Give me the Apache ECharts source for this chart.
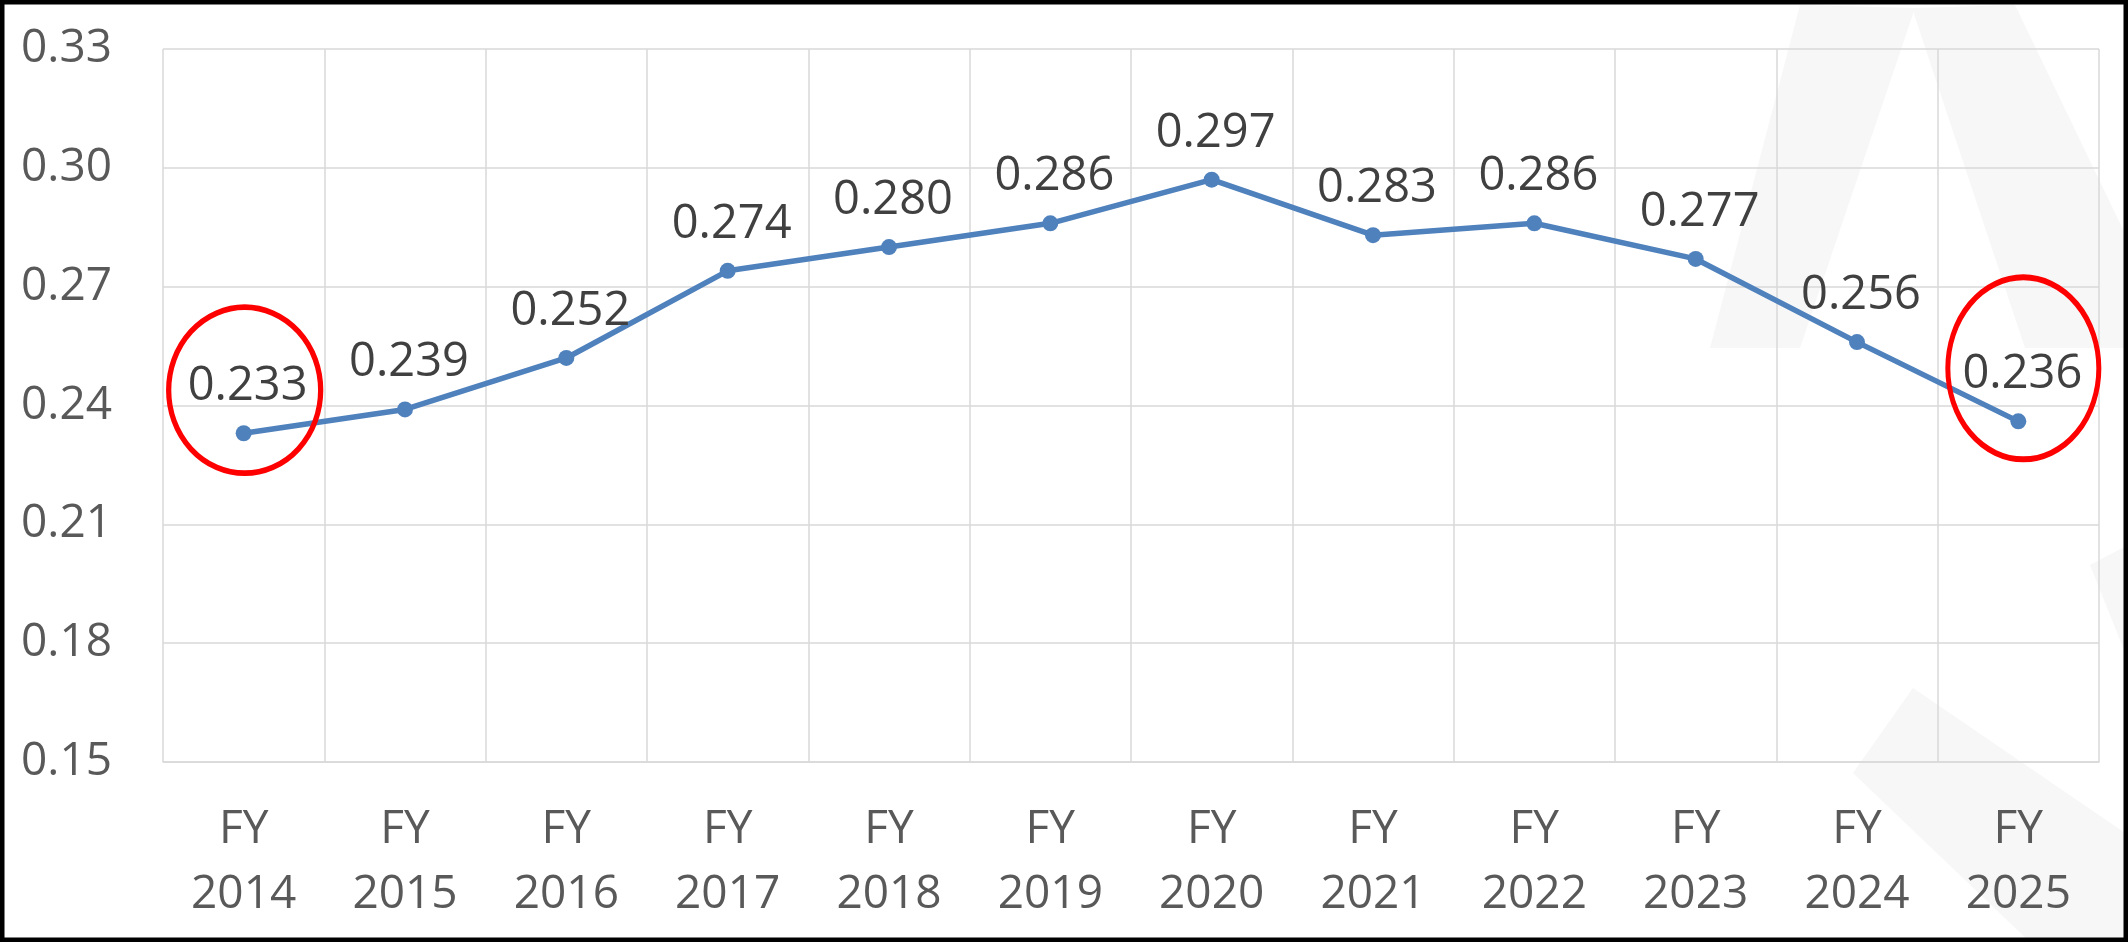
<!DOCTYPE html>
<html>
<head>
<meta charset="utf-8">
<script src="https://cdn.jsdelivr.net/npm/echarts@6/dist/echarts.min.js"></script>
<style>
  html, body { margin: 0; padding: 0; background: #fff; }
  #chart { width: 2128px; height: 942px; }
</style>
</head>
<body>
<div id="chart"></div>
<script>
// ---- data ----
const categories = ['FY\n2014','FY\n2015','FY\n2016','FY\n2017','FY\n2018','FY\n2019','FY\n2020','FY\n2021','FY\n2022','FY\n2023','FY\n2024','FY\n2025'];
const values = [0.233, 0.239, 0.252, 0.274, 0.280, 0.286, 0.297, 0.283, 0.286, 0.277, 0.256, 0.236];
const yMin = 0.15;
const yMax = 0.33;
const yStep = 0.03;
const highlighted = [0, 11]; // indices circled in red

const FONT = '"Open Sans", "Noto Sans", sans-serif';
const chart = echarts.init(document.getElementById('chart'));

const ellipsePath = 'path://M0,50A50,50,0,1,1,100,50A50,50,0,1,1,0,50Z';
const ellipseStyle = [
  { size: [152, 166], offset: [1, -43] },
  { size: [151, 182], offset: [5, -53] }
];

const wm = '#f7f7f7';
const option = {
  backgroundColor: '#ffffff',
  animation: false,
  graphic: [
    { type: 'polygon', z: -10, silent: true, shape: { points: [[1710,348],[1800,348],[1915,8],[1800,5]] }, style: { fill: wm } },
    { type: 'polygon', z: -10, silent: true, shape: { points: [[1912,8],[2015,5],[2128,240],[2128,348],[2025,348]] }, style: { fill: wm } },
    { type: 'polygon', z: -10, silent: true, shape: { points: [[2098,242],[2128,242],[2128,348],[2098,348]] }, style: { fill: wm } },
    { type: 'polygon', z: -10, silent: true, shape: { points: [[2090,565],[2128,545],[2128,660]] }, style: { fill: wm } },
    { type: 'polygon', z: -10, silent: true, shape: { points: [[1853,773],[1913,688],[2128,835],[2128,942],[2030,942]] }, style: { fill: wm } },
    { type: 'rect', z: 100, silent: true, shape: { x: 0, y: 0, width: 2128, height: 942 }, style: { fill: 'none', stroke: '#000', lineWidth: 9 } }
  ],
  grid: { left: 163, right: 29, top: 49, bottom: 180, containLabel: false },
  xAxis: {
    type: 'category',
    data: categories,
    boundaryGap: true,
    axisLine: { show: true, lineStyle: { color: '#d9d9d9', width: 1.5 } },
    axisTick: { show: false },
    splitLine: { show: true, lineStyle: { color: '#d9d9d9', width: 1.5 } },
    axisLabel: {
      color: '#595959', fontFamily: FONT, fontSize: 46, lineHeight: 65,
      margin: 35, interval: 0
    }
  },
  yAxis: {
    type: 'value',
    min: yMin, max: yMax, interval: yStep,
    axisLine: { show: false },
    axisTick: { show: false },
    splitLine: { show: true, lineStyle: { color: '#d9d9d9', width: 1.5 } },
    axisLabel: {
      color: '#595959', fontFamily: FONT, fontSize: 46, margin: 51,
      formatter: v => v.toFixed(2)
    }
  },
  series: [{
    type: 'line',
    data: values,
    symbol: 'circle',
    symbolSize: 16,
    lineStyle: { color: '#4f81bd', width: 5.5 },
    itemStyle: { color: '#4f81bd' },
    label: {
      show: true, position: 'top', distance: 15, offset: [4, 0],
      color: '#404040', fontFamily: FONT, fontSize: 47, lineHeight: 47,
      formatter: p => p.value.toFixed(3)
    },
    markPoint: {
      silent: true,
      symbol: ellipsePath,
      label: { show: false },
      data: highlighted.map((idx, i) => ({
        coord: [categories[idx], values[idx]],
        symbolSize: ellipseStyle[i].size,
        symbolOffset: ellipseStyle[i].offset,
        itemStyle: { color: 'rgba(0,0,0,0)', borderColor: '#ff0000', borderWidth: 5.5 }
      }))
    }
  }]
};
chart.setOption(option);
</script>
</body>
</html>
